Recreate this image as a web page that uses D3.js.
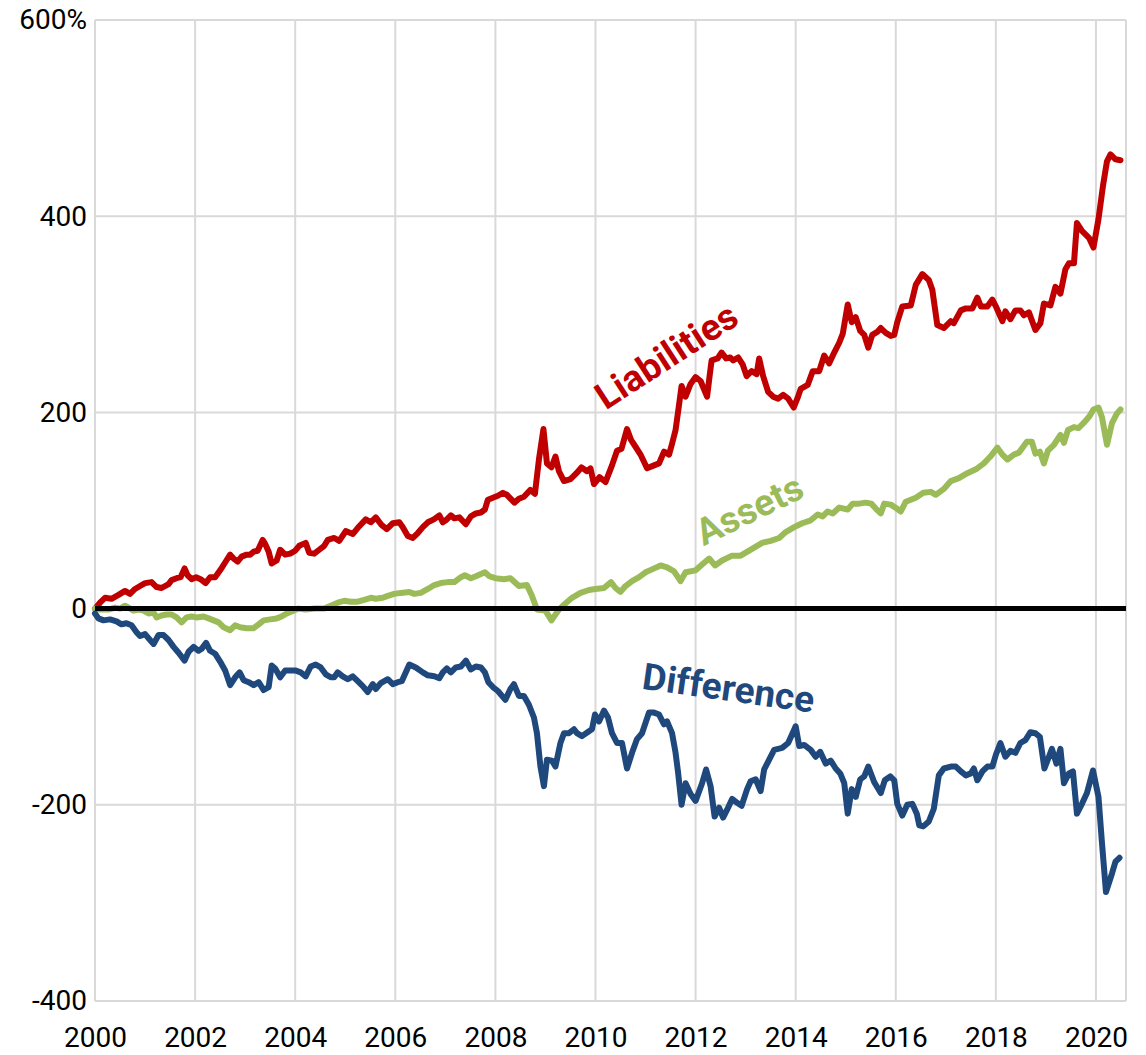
<!DOCTYPE html>
<html>
<head>
<meta charset="utf-8">
<script src="https://cdn.jsdelivr.net/npm/d3@7"></script>
<style>
  html, body { margin: 0; padding: 0; background: #fff; }
  svg { display: block; }
  text { font-family: Roboto, "Noto Sans", sans-serif; }
</style>
</head>
<body>
<svg id="chart" width="1146" height="1055"></svg>
<script>
// ---- Data (year as decimal, value in %) ----
const liabilities = [
  [2000.0,0],[2000.1,6],[2000.2,11],[2000.33,10],[2000.47,14],[2000.6,18],[2000.7,15],[2000.8,20],[2000.9,23],
  [2001.0,26],[2001.13,27],[2001.23,22],[2001.33,21],[2001.47,25],[2001.53,29],[2001.63,31],[2001.71,32],[2001.79,41],
  [2001.85,34],[2001.93,30],[2002.02,32],[2002.11,30],[2002.21,26],[2002.3,32],[2002.4,32],[2002.5,39],[2002.6,47],
  [2002.7,55],[2002.77,51],[2002.85,48],[2002.93,53],[2003.03,55],[2003.1,55],[2003.17,58],[2003.25,59],[2003.35,70],
  [2003.4,66],[2003.47,58],[2003.53,46],[2003.63,49],[2003.7,60],[2003.8,55],[2003.9,56],[2004.0,59],[2004.08,64],
  [2004.21,67],[2004.28,57],[2004.38,56],[2004.48,60],[2004.58,64],[2004.65,70],[2004.78,72],[2004.88,69],[2005.01,79],
  [2005.15,76],[2005.28,84],[2005.41,91],[2005.51,88],[2005.61,93],[2005.73,85],[2005.83,81],[2005.95,87],[2006.08,88],
  [2006.15,83],[2006.25,74],[2006.35,72],[2006.45,77],[2006.55,83],[2006.65,88],[2006.77,91],[2006.88,95],[2006.95,88],
  [2007.01,90],[2007.11,95],[2007.18,92],[2007.28,93],[2007.41,86],[2007.51,94],[2007.61,97],[2007.71,98],[2007.79,101],
  [2007.85,111],[2007.95,113],[2008.05,115],[2008.15,118],[2008.23,116],[2008.38,108],[2008.47,112],[2008.57,114],
  [2008.7,121],[2008.79,117],[2008.87,152],[2008.96,183],[2009.03,148],[2009.12,144],[2009.2,155],[2009.27,140],
  [2009.37,130],[2009.5,132],[2009.62,138],[2009.72,144],[2009.83,140],[2009.9,143],[2009.97,127],[2010.08,134],
  [2010.2,129],[2010.33,146],[2010.43,161],[2010.52,163],[2010.63,183],[2010.71,172],[2010.8,165],[2010.9,157],
  [2011.03,143],[2011.17,146],[2011.27,148],[2011.37,160],[2011.47,157],[2011.53,168],[2011.6,182],[2011.67,208],
  [2011.72,227],[2011.8,216],[2011.9,229],[2012.0,236],[2012.1,232],[2012.23,216],[2012.28,237],[2012.32,253],
  [2012.44,255],[2012.52,261],[2012.61,255],[2012.69,256],[2012.75,253],[2012.85,256],[2012.94,249],[2013.02,237],
  [2013.12,242],[2013.22,239],[2013.27,255],[2013.35,237],[2013.45,221],[2013.55,216],[2013.65,214],[2013.75,218],
  [2013.85,214],[2013.96,205],[2014.04,215],[2014.1,224],[2014.24,228],[2014.34,242],[2014.47,242],[2014.57,258],
  [2014.67,250],[2014.77,261],[2014.87,271],[2014.94,280],[2015.04,310],[2015.12,292],[2015.2,297],[2015.29,283],
  [2015.37,279],[2015.45,266],[2015.53,279],[2015.63,282],[2015.7,286],[2015.8,281],[2015.9,278],[2015.97,279],
  [2016.03,292],[2016.13,308],[2016.3,309],[2016.4,330],[2016.53,341],[2016.66,335],[2016.73,325],[2016.83,289],
  [2016.96,286],[2017.1,293],[2017.16,291],[2017.3,304],[2017.4,306],[2017.53,306],[2017.63,317],[2017.7,308],
  [2017.83,308],[2017.93,315],[2018.01,307],[2018.13,293],[2018.19,303],[2018.29,295],[2018.39,304],[2018.49,304],
  [2018.56,299],[2018.66,302],[2018.79,284],[2018.89,291],[2018.96,311],[2019.09,309],[2019.19,328],[2019.29,321],
  [2019.39,346],[2019.46,352],[2019.56,352],[2019.62,393],[2019.72,385],[2019.86,378],[2019.95,368],[2020.05,397],
  [2020.14,431],[2020.22,456],[2020.29,463],[2020.39,458],[2020.49,457]
];

const assets = [
  [2000.0,0],[2000.1,-1],[2000.27,-1],[2000.4,1],[2000.5,0],[2000.6,3],[2000.67,1],[2000.77,-2],[2000.87,-1],
  [2000.97,-2],[2001.07,-5],[2001.17,-4],[2001.23,-9],[2001.33,-7],[2001.43,-6],[2001.53,-6],[2001.63,-9],[2001.73,-14],
  [2001.83,-9],[2001.93,-8],[2002.03,-9],[2002.17,-8],[2002.27,-10],[2002.37,-12],[2002.47,-14],[2002.57,-19],
  [2002.7,-22],[2002.8,-17],[2002.9,-19],[2003.03,-20],[2003.17,-20],[2003.27,-16],[2003.37,-12],[2003.5,-11],
  [2003.63,-10],[2003.73,-8],[2003.83,-5],[2003.93,-3],[2004.07,0],[2004.2,-1],[2004.4,0],[2004.58,0],[2004.71,3],
  [2004.85,6],[2004.98,8],[2005.11,7],[2005.25,7],[2005.38,9],[2005.51,11],[2005.61,10],[2005.75,11],[2005.85,13],
  [2005.98,15],[2006.11,16],[2006.28,17],[2006.38,15],[2006.51,16],[2006.65,20],[2006.78,24],[2006.91,26],[2007.05,27],
  [2007.18,27],[2007.31,32],[2007.39,34],[2007.51,31],[2007.61,33],[2007.7,35],[2007.79,37],[2007.88,33],[2008.0,31],
  [2008.17,30],[2008.3,31],[2008.47,23],[2008.63,24],[2008.73,13],[2008.83,-1],[2009.0,-2],[2009.12,-12],[2009.27,-1],
  [2009.37,4],[2009.53,11],[2009.7,16],[2009.87,19],[2010.0,20],[2010.17,21],[2010.31,27],[2010.4,21],[2010.5,17],
  [2010.6,23],[2010.73,28],[2010.87,32],[2011.0,37],[2011.13,40],[2011.3,44],[2011.43,42],[2011.57,38],[2011.7,28],
  [2011.8,37],[2012.0,39],[2012.13,45],[2012.27,51],[2012.39,44],[2012.53,49],[2012.73,54],[2012.9,54],[2013.07,59],
  [2013.33,67],[2013.5,69],[2013.67,72],[2013.8,78],[2013.97,83],[2014.13,87],[2014.3,90],[2014.44,96],[2014.54,94],
  [2014.64,99],[2014.74,97],[2014.87,103],[2015.04,101],[2015.14,107],[2015.27,107],[2015.4,108],[2015.51,107],
  [2015.6,102],[2015.7,97],[2015.77,107],[2015.9,106],[2016.02,102],[2016.1,99],[2016.2,109],[2016.4,113],
  [2016.55,118],[2016.7,119],[2016.8,116],[2016.96,122],[2017.1,130],[2017.26,133],[2017.43,138],[2017.6,142],
  [2017.76,148],[2017.89,155],[2018.03,164],[2018.13,157],[2018.23,152],[2018.36,157],[2018.46,159],[2018.62,170],
  [2018.72,170],[2018.79,158],[2018.88,160],[2018.96,148],[2019.04,161],[2019.16,167],[2019.29,177],[2019.36,169],
  [2019.44,182],[2019.56,185],[2019.65,184],[2019.75,189],[2019.87,196],[2019.95,203],[2020.05,205],[2020.12,195],
  [2020.22,167],[2020.32,189],[2020.42,199],[2020.49,203]
];

const difference = [
  [2000.0,-5],[2000.07,-10],[2000.17,-12],[2000.3,-11],[2000.43,-13],[2000.53,-16],[2000.63,-15],[2000.73,-17],
  [2000.83,-24],[2000.9,-28],[2001.0,-26],[2001.1,-32],[2001.17,-36],[2001.27,-27],[2001.37,-27],[2001.47,-32],
  [2001.57,-39],[2001.67,-45],[2001.79,-53],[2001.87,-44],[2001.97,-39],[2002.07,-43],[2002.13,-41],[2002.22,-35],
  [2002.3,-43],[2002.4,-46],[2002.5,-54],[2002.6,-63],[2002.7,-78],[2002.8,-70],[2002.89,-65],[2002.97,-73],
  [2003.07,-75],[2003.17,-78],[2003.27,-75],[2003.37,-83],[2003.47,-80],[2003.53,-58],[2003.6,-61],[2003.7,-70],
  [2003.8,-63],[2003.9,-63],[2004.0,-63],[2004.11,-65],[2004.21,-69],[2004.31,-59],[2004.41,-57],[2004.51,-60],
  [2004.61,-67],[2004.71,-70],[2004.78,-70],[2004.85,-65],[2004.95,-69],[2005.05,-72],[2005.15,-69],[2005.25,-74],
  [2005.35,-79],[2005.45,-85],[2005.55,-77],[2005.61,-82],[2005.71,-76],[2005.85,-72],[2005.95,-77],[2006.05,-75],
  [2006.13,-74],[2006.28,-57],[2006.41,-60],[2006.55,-65],[2006.65,-68],[2006.78,-69],[2006.88,-71],[2006.95,-65],
  [2007.03,-61],[2007.11,-65],[2007.21,-60],[2007.31,-59],[2007.41,-53],[2007.51,-62],[2007.61,-59],[2007.71,-60],
  [2007.79,-65],[2007.86,-75],[2007.95,-80],[2008.05,-84],[2008.2,-93],[2008.3,-82],[2008.37,-77],[2008.47,-89],
  [2008.57,-89],[2008.67,-98],[2008.77,-111],[2008.83,-127],[2008.9,-161],[2008.97,-181],[2009.03,-154],[2009.13,-155],
  [2009.2,-161],[2009.3,-137],[2009.37,-127],[2009.47,-127],[2009.57,-123],[2009.63,-127],[2009.73,-130],[2009.87,-125],
  [2009.93,-123],[2009.99,-108],[2010.07,-115],[2010.17,-104],[2010.25,-111],[2010.33,-127],[2010.43,-137],[2010.53,-137],
  [2010.63,-163],[2010.73,-147],[2010.83,-133],[2010.93,-127],[2011.07,-106],[2011.17,-106],[2011.27,-108],[2011.37,-118],
  [2011.43,-115],[2011.53,-127],[2011.6,-147],[2011.65,-167],[2011.72,-200],[2011.8,-178],[2011.9,-189],[2012.0,-196],
  [2012.13,-178],[2012.21,-164],[2012.3,-181],[2012.38,-212],[2012.47,-203],[2012.55,-213],[2012.63,-205],[2012.73,-194],
  [2012.83,-198],[2012.92,-201],[2013.03,-184],[2013.1,-176],[2013.2,-174],[2013.3,-186],[2013.37,-164],[2013.47,-154],
  [2013.57,-144],[2013.73,-142],[2013.85,-137],[2014.0,-120],[2014.07,-140],[2014.17,-139],[2014.3,-144],[2014.4,-151],
  [2014.49,-146],[2014.6,-158],[2014.7,-155],[2014.8,-163],[2014.89,-168],[2014.97,-178],[2015.04,-209],[2015.12,-184],
  [2015.2,-192],[2015.29,-174],[2015.37,-171],[2015.45,-161],[2015.57,-177],[2015.7,-188],[2015.78,-175],[2015.89,-171],
  [2015.97,-175],[2016.03,-199],[2016.13,-211],[2016.23,-200],[2016.33,-199],[2016.42,-209],[2016.47,-221],[2016.55,-222],
  [2016.66,-217],[2016.76,-204],[2016.86,-170],[2016.96,-163],[2017.1,-161],[2017.2,-161],[2017.3,-166],[2017.4,-170],
  [2017.5,-168],[2017.56,-163],[2017.63,-175],[2017.73,-166],[2017.83,-161],[2017.93,-161],[2018.0,-149],[2018.09,-137],
  [2018.19,-151],[2018.29,-145],[2018.39,-147],[2018.49,-137],[2018.59,-134],[2018.69,-126],[2018.79,-127],[2018.88,-131],
  [2018.97,-163],[2019.06,-151],[2019.12,-143],[2019.21,-158],[2019.29,-143],[2019.36,-178],[2019.46,-168],[2019.54,-166],
  [2019.62,-209],[2019.72,-199],[2019.82,-188],[2019.94,-165],[2020.05,-192],[2020.12,-239],[2020.2,-289],[2020.32,-270],
  [2020.39,-258],[2020.47,-254]
];

const xTicks = [2000, 2002, 2004, 2006, 2008, 2010, 2012, 2014, 2016, 2018, 2020];
const yTicks = [-400, -200, 0, 200, 400, 600];
const seriesNames = ["Liabilities", "Assets", "Difference"];
const seriesColors = ["#C00000", "#9BBB59", "#1F497D"];
// label anchor (year, value) and rotation per series
const labelPos = [[2011.45, 255], [2013.1, 98], [2012.65, -84]];
const labelRot = [-33, -26, 8];

// ---- Layout ----
const W = 1146, H = 1055;
const margin = { top: 20, right: 20, bottom: 54, left: 95 };
const svg = d3.select("#chart");
const x = d3.scaleLinear().domain([2000, 2020.6]).range([margin.left, W - margin.right]);
const y = d3.scaleLinear().domain([-400, 600]).range([H - margin.bottom, margin.top]);

const grid = svg.append("g");
grid.selectAll("line.v").data(xTicks.concat([2020.6])).join("line")
  .attr("x1", d => x(d)).attr("x2", d => x(d))
  .attr("y1", y(600)).attr("y2", y(-400))
  .attr("stroke", "#d9d9d9").attr("stroke-width", 2);
grid.selectAll("line.h").data(yTicks).join("line")
  .attr("x1", x(2000)).attr("x2", x(2020.6))
  .attr("y1", d => y(d)).attr("y2", d => y(d))
  .attr("stroke", "#d9d9d9").attr("stroke-width", 2);

// axes (labels only)
const yAxis = d3.axisLeft(y).tickValues(yTicks).tickSize(0).tickPadding(8)
  .tickFormat(d => d === 600 ? "600%" : String(d));
svg.append("g").attr("transform", `translate(${x(2000)},0)`).call(yAxis)
  .call(g => g.select(".domain").remove())
  .selectAll("text").attr("font-size", 28).attr("fill", "#000")
  .style("font-family", "Roboto, sans-serif");

const xAxis = d3.axisBottom(x).tickValues(xTicks).tickSize(0).tickPadding(26)
  .tickFormat(d3.format("d"));
svg.append("g").attr("transform", `translate(0,${y(-400)})`).call(xAxis)
  .call(g => g.select(".domain").remove())
  .selectAll("text").attr("font-size", 28).attr("fill", "#000")
  .style("font-family", "Roboto, sans-serif");

// series lines
const line = d3.line().x(d => x(d[0])).y(d => y(d[1]));
const allSeries = [liabilities, assets, difference];
svg.append("g").selectAll("path").data(allSeries).join("path")
  .attr("d", line)
  .attr("fill", "none")
  .attr("stroke", (d, i) => seriesColors[i])
  .attr("stroke-width", 6)
  .attr("stroke-linejoin", "round")
  .attr("stroke-linecap", "round");

// zero line
svg.append("line")
  .attr("x1", x(2000)).attr("x2", x(2020.6))
  .attr("y1", y(0)).attr("y2", y(0))
  .attr("stroke", "#000").attr("stroke-width", 5);

// series labels
svg.append("g").selectAll("text").data(seriesNames).join("text")
  .attr("transform", (d, i) => `translate(${x(labelPos[i][0])},${y(labelPos[i][1])}) rotate(${labelRot[i]})`)
  .attr("text-anchor", "middle")
  .attr("dominant-baseline", "middle")
  .attr("font-size", 37)
  .attr("font-weight", "bold")
  .attr("fill", (d, i) => seriesColors[i])
  .text(d => d);
</script>
</body>
</html>
